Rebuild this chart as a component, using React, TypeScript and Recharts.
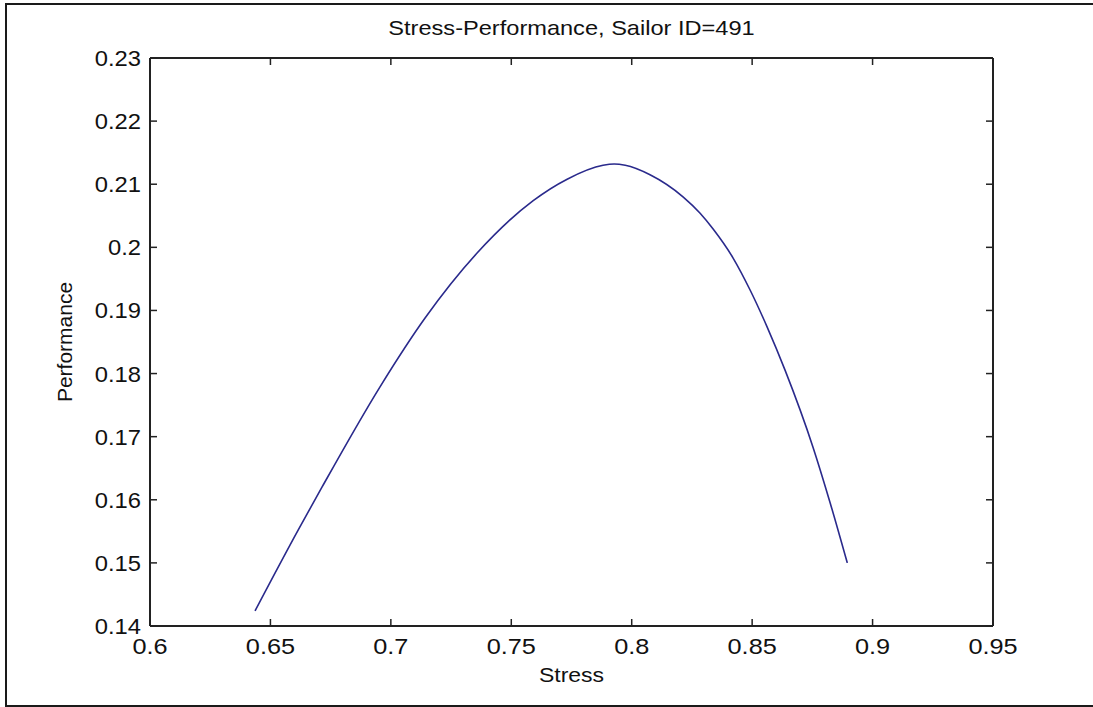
import { LineChart, Line, XAxis, YAxis } from "recharts";

const stress = [
  0.6436, 0.6615, 0.6714, 0.6955, 0.7142, 0.7358, 0.7591, 0.7732, 0.7881, 0.7927, 0.7973,
  0.8076, 0.8213, 0.8284, 0.8338, 0.8421, 0.8492, 0.8562, 0.8637, 0.8753, 0.8824, 0.8895,
];
const performance = [
  0.1424, 0.1552, 0.162, 0.1779, 0.1888, 0.1991, 0.2074, 0.2108, 0.213, 0.2132, 0.213,
  0.2115, 0.208, 0.2054, 0.2029, 0.1983, 0.1932, 0.1874, 0.1805, 0.1683, 0.1595, 0.15,
];
const xTicks = [0.6, 0.65, 0.7, 0.75, 0.8, 0.85, 0.9, 0.95];
const yTicks = [0.14, 0.15, 0.16, 0.17, 0.18, 0.19, 0.2, 0.21, 0.22, 0.23];

const data = stress.map((s, i) => ({ stress: s, performance: performance[i] }));

const FONT = "'Liberation Sans', Arial, sans-serif";
const INK = "#222";
const TICK = 7;

// matlab-ish ticks: short line pointing into the box, label outside
function BottomTick(props: any) {
  const { x, y, payload } = props;
  return (
    <g>
      <line x1={x} y1={y} x2={x} y2={y - TICK} stroke={INK} strokeWidth={1.5} />
      <text
        transform={`translate(${x},${y + 28}) scale(1.15,1)`}
        textAnchor="middle"
        fontFamily={FONT}
        fontSize={22}
        fill="#111"
      >
        {String(payload.value)}
      </text>
    </g>
  );
}

function LeftTick(props: any) {
  const { x, y, payload } = props;
  return (
    <g>
      <line x1={x} y1={y} x2={x + TICK} y2={y} stroke={INK} strokeWidth={1.5} />
      <text
        transform={`translate(${x - 9},${y + 8}) scale(1.08,1)`}
        textAnchor="end"
        fontFamily={FONT}
        fontSize={22}
        fill="#111"
      >
        {String(payload.value)}
      </text>
    </g>
  );
}

function TopTick(props: any) {
  const { x, y } = props;
  return <line x1={x} y1={y} x2={x} y2={y + TICK} stroke={INK} strokeWidth={1.5} />;
}

function RightTick(props: any) {
  const { x, y } = props;
  return <line x1={x} y1={y} x2={x - TICK} y2={y} stroke={INK} strokeWidth={1.5} />;
}

export default function App() {
  return (
    <div
      style={{
        position: "absolute",
        left: 0,
        top: 0,
        width: 1093,
        height: 707,
        overflow: "hidden",
        background: "#fff",
      }}
    >
      <div
        style={{
          position: "absolute",
          left: 5,
          top: 3,
          width: 1200,
          height: 704,
          boxSizing: "border-box",
          border: "2px solid #1a1a1a",
        }}
      />
      <div style={{ position: "absolute", left: 0, top: 0 }}>
        <LineChart
          width={1093}
          height={707}
          data={data}
          margin={{ top: 57, right: 99, bottom: 21, left: 90 }}
        >
          <XAxis
            xAxisId="bottom"
            dataKey="stress"
            type="number"
            domain={[0.6, 0.95]}
            ticks={xTicks}
            allowDataOverflow
            height={60}
            tickSize={0}
            tickMargin={0}
            tickLine={false}
            axisLine={{ stroke: INK, strokeWidth: 2 }}
            tick={<BottomTick />}
            interval={0}
            label={{
              content: (p: any) => {
                const vb = p.viewBox;
                return (
                  <text
                    transform={`translate(${vb.x + vb.width / 2},${vb.y + 56}) scale(1.15,1)`}
                    textAnchor="middle"
                    fontFamily={FONT}
                    fontSize={20}
                    fill="#111"
                  >
                    Stress
                  </text>
                );
              },
            }}
          />
          <XAxis
            xAxisId="top"
            orientation="top"
            dataKey="stress"
            type="number"
            domain={[0.6, 0.95]}
            ticks={xTicks}
            allowDataOverflow
            height={1}
            tickSize={0}
            tickMargin={0}
            tickLine={false}
            axisLine={{ stroke: INK, strokeWidth: 2 }}
            tick={<TopTick />}
            interval={0}
            label={{
              content: (p: any) => {
                const vb = p.viewBox;
                return (
                  <text
                    transform={`translate(${vb.x + vb.width / 2},${vb.y - 22}) scale(1.18,1)`}
                    textAnchor="middle"
                    fontFamily={FONT}
                    fontSize={20}
                    fill="#111"
                  >
                    Stress-Performance, Sailor ID=491
                  </text>
                );
              },
            }}
          />
          <YAxis
            yAxisId="left"
            type="number"
            domain={[0.14, 0.23]}
            ticks={yTicks}
            allowDataOverflow
            width={60}
            tickSize={0}
            tickMargin={0}
            tickLine={false}
            axisLine={{ stroke: INK, strokeWidth: 2 }}
            tick={<LeftTick />}
            interval={0}
            label={{
              content: (p: any) => {
                const vb = p.viewBox;
                const cx = 72;
                const cy = vb.y + vb.height / 2;
                return (
                  <text
                    transform={`translate(${cx},${cy}) rotate(-90) scale(1.05,1)`}
                    textAnchor="middle"
                    fontFamily={FONT}
                    fontSize={20}
                    fill="#111"
                  >
                    Performance
                  </text>
                );
              },
            }}
          />
          <YAxis
            yAxisId="right"
            orientation="right"
            type="number"
            domain={[0.14, 0.23]}
            ticks={yTicks}
            allowDataOverflow
            width={1}
            tickSize={0}
            tickMargin={0}
            tickLine={false}
            axisLine={{ stroke: INK, strokeWidth: 2 }}
            tick={<RightTick />}
            interval={0}
          />
          <Line
            xAxisId="bottom"
            yAxisId="left"
            type="monotone"
            dataKey="performance"
            stroke="#2a2a8c"
            strokeWidth={1.6}
            dot={false}
            isAnimationActive={false}
          />
          {/* invisible copy so the top/right box axes get drawn */}
          <Line
            xAxisId="top"
            yAxisId="right"
            type="monotone"
            dataKey="performance"
            stroke="none"
            dot={false}
            activeDot={false}
            legendType="none"
            isAnimationActive={false}
          />
        </LineChart>
      </div>
    </div>
  );
}
